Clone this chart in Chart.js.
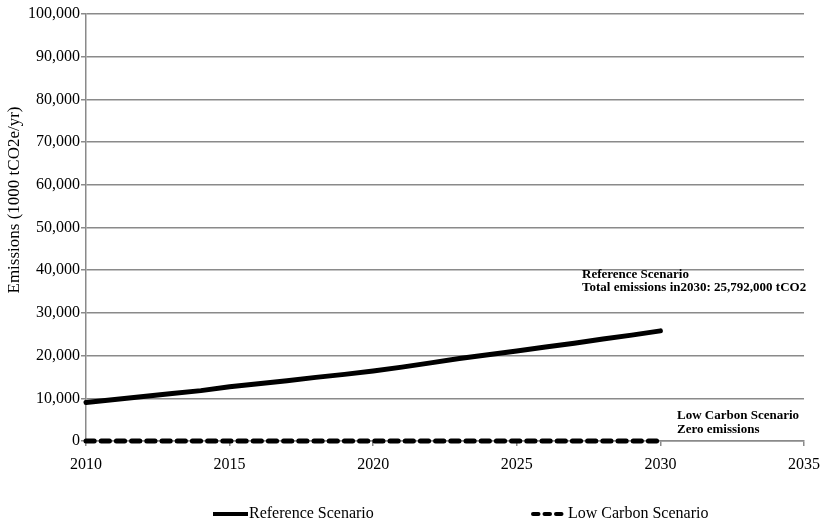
<!DOCTYPE html>
<html><head><meta charset="utf-8">
<script src="https://cdn.jsdelivr.net/npm/chart.js@4.4.1/dist/chart.umd.min.js"></script>
<style>html,body{margin:0;padding:0;background:#fff;}#wrap{width:821px;height:520px;}</style>
</head><body><div id="wrap"><canvas id="c" width="821" height="520"></canvas></div>
<script>
const years = [2010,2011,2012,2013,2014,2015,2016,2017,2018,2019,2020,2021,2022,2023,2024,2025,2026,2027,2028,2029,2030];
const referenceValues = [9000,9700,10400,11100,11800,12700,13400,14100,14900,15600,16400,17300,18300,19300,20200,21100,22000,22900,23900,24800,25792];
const lowCarbonValues = [0,0,0,0,0,0,0,0,0,0,0,0,0,0,0,0,0,0,0,0,0];
const seriesLabels = ['Reference Scenario','Low Carbon Scenario'];
const yTitle = 'Emissions (1000 tCO2e/yr)';
const noteRef = ['Reference Scenario','Total emissions in2030: 25,792,000 tCO2'];
const noteLow = ['Low Carbon Scenario','Zero emissions'];

const FONT = '"Liberation Serif","Times New Roman",serif';
const GRID = '#8a8a8a';

const extras = {
  id:'extras',
  afterDraw(chart){
    const ctx = chart.ctx;
    ctx.save();
    ctx.fillStyle = '#000';
    // y title
    ctx.save();
    ctx.translate(15, 200);
    ctx.rotate(-Math.PI/2);
    ctx.font = '17px ' + FONT;
    ctx.textAlign = 'center';
    ctx.textBaseline = 'middle';
    ctx.fillText(yTitle, 0, 0);
    ctx.restore();
    // annotations
    ctx.font = 'bold 13px ' + FONT;
    ctx.textBaseline = 'middle';
    ctx.textAlign = 'left';
    ctx.fillText(noteRef[0], 582, 275);
    ctx.fillText(noteRef[1], 582, 288);
    ctx.fillText(noteLow[0], 677, 416);
    ctx.fillText(noteLow[1], 677, 430);
    // legend
    const ly = 514;
    ctx.font = '16px ' + FONT;
    ctx.lineWidth = 4;
    ctx.strokeStyle = '#000';
    ctx.beginPath(); ctx.setLineDash([]); ctx.moveTo(213, ly); ctx.lineTo(248, ly); ctx.stroke();
    ctx.fillText(chart.data.datasets[0].label, 249, ly);
    ctx.lineCap = 'round';
    ctx.beginPath(); ctx.setLineDash([5.5,6]); ctx.moveTo(533, ly); ctx.lineTo(562, ly); ctx.stroke();
    ctx.setLineDash([]);
    ctx.fillText(chart.data.datasets[1].label, 568, ly);
    ctx.restore();
  }
};

new Chart(document.getElementById('c'), {
  type:'line',
  data:{
    datasets:[
      {label:seriesLabels[0], data:years.map((y,i)=>({x:y,y:referenceValues[i]})), borderColor:'#000', borderWidth:5, pointRadius:0, tension:0, borderCapStyle:'round', borderJoinStyle:'round', fill:false, clip:false},
      {label:seriesLabels[1], data:years.map((y,i)=>({x:y,y:lowCarbonValues[i]})), borderColor:'#000', borderWidth:5, borderDash:[8.2,7], borderCapStyle:'round', pointRadius:0, tension:0, fill:false, clip:false}
    ]
  },
  options:{
    responsive:false, animation:false, devicePixelRatio:1,
    layout:{padding:{top:14,right:17,left:0,bottom:0}},
    plugins:{legend:{display:false}, tooltip:{enabled:false}},
    scales:{
      x:{type:'linear', min:2010, max:2035,
        ticks:{stepSize:5, color:'#000', font:{family:FONT,size:16}, padding:9, maxRotation:0, callback:v=>String(v)},
        grid:{display:true, drawOnChartArea:false, drawTicks:true, tickLength:5, color:GRID, lineWidth:1.5},
        border:{color:GRID, width:1.5},
        afterFit(s){ s.height = 79; s.paddingRight = 0; s.paddingLeft = 0; }
      },
      y:{min:0, max:100000,
        ticks:{stepSize:10000, color:'#000', font:{family:FONT,size:16}, padding:1, callback:v=>v.toLocaleString('en-US')},
        grid:{color:GRID, lineWidth:1.5, tickLength:5},
        border:{color:GRID, width:1.5},
        afterFit(s){ s.width = 86; s.paddingTop = 0; s.paddingBottom = 0; }
      }
    }
  },
  plugins:[extras]
});
</script></body></html>
